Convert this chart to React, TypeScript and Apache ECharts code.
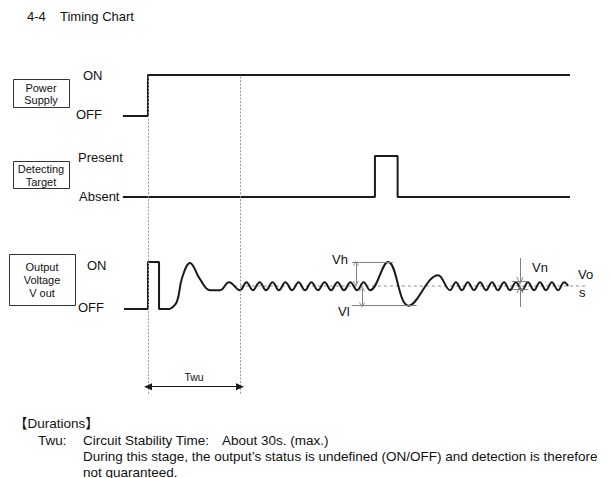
import React, { useEffect, useRef } from "react";
import * as echarts from "echarts";

// time axis in seconds (Twu = 30 s), levels: OFF/Absent = 0, ON/Present = 1
const powerSupply: number[][] = [[-8.2, 0], [0, 0], [0, 1], [137.6, 1]];
const detectingTarget: number[][] = [[-8.2, 0], [74.0, 0], [74.0, 1], [81.4, 1], [81.4, 0], [137.6, 0]];
const outputPulse: number[][] = [[-7.8, 0], [0, 0], [0, 1], [3.6, 1], [3.6, 0], [7.2, 0]];
const outputSettling: number[][] = [
  [7.2, 0], [9.4, 0.15], [11.1, 0.66], [13.7, 0.98], [16.9, 0.64],
  [20.2, 0.4], [23.5, 0.4], [26.4, 0.57], [30.0, 0.4],
];
const outputRipple1: number[][] = [
  [32.1, 0.57], [34.2, 0.4], [36.4, 0.57], [38.5, 0.4], [40.6, 0.57], [42.7, 0.4],
  [44.8, 0.57], [47.0, 0.4], [49.1, 0.57], [51.2, 0.4], [53.3, 0.57], [55.4, 0.4],
  [57.6, 0.57], [59.7, 0.4], [61.8, 0.57], [63.9, 0.4], [66.0, 0.57], [68.2, 0.4],
  [70.3, 0.57], [72.4, 0.4],
];
const outputDisturbance: number[][] = [[78.3, 1.0], [85.0, 0.07], [94.6, 0.72], [98.5, 0.4]];
const outputRipple2: number[][] = [
  [100.4, 0.57], [102.4, 0.4], [104.3, 0.57], [106.3, 0.4], [108.3, 0.57], [110.2, 0.4],
  [112.2, 0.57], [114.1, 0.4], [116.1, 0.57], [118.0, 0.4], [120.0, 0.57], [122.0, 0.4],
  [123.9, 0.57], [125.9, 0.4], [127.8, 0.57], [129.8, 0.4], [131.7, 0.57], [133.7, 0.4],
  [135.7, 0.57], [137.0, 0.49],
];
const vosLine: number[][] = [[28, 0.49], [142.5, 0.49]];
const twuStart = 0;
const twuEnd = 30;
const vh = { t0: 66.5, t1: 79.9, level: 0.985, arrowT: 67.8, arrowFrom: 0.975, arrowTo: 0.54 };
const vl = { t0: 66.5, t1: 87.6, level: 0.074, arrowT: 69.8, arrowFrom: 0.43, arrowTo: 0.085 };
const vn = { t: 121.3, t0: 118.6, t1: 124.0, hi: 0.596, lo: 0.426, top: 1.085, bottom: 0.043 };
const twuArrowLevel = -1.653;

const FONT = '"Liberation Sans", Arial, "Noto Sans CJK JP", sans-serif';
const BLACK = "#1a1a1a";
const GRAY = "#808080";
const CHEVRON = "path://M5,0 L10,10 L8.6,10 L5,2.8 L1.4,10 L0,10 Z";
const TRI = "path://M5,0 L10,10 L0,10 Z";

const X_MIN = -10;
const X_MAX = 145;
const LEFT = 117.33;
const RIGHT = 17.33;

function txt(text: string, x: number, y: number, size: number, align = "left", color = "#111") {
  return {
    type: "text",
    x,
    y,
    silent: true,
    style: {
      text,
      font: `${size}px ${FONT}`,
      fill: color,
      align,
      textAlign: align,
      verticalAlign: "middle",
      textVerticalAlign: "middle",
    },
  };
}

function box(x: number, y: number, w: number, h: number) {
  return {
    type: "rect",
    silent: true,
    shape: { x: x + 0.5, y: y + 0.5, width: w, height: h },
    style: { fill: "none", stroke: "#333", lineWidth: 1 },
  };
}

function seg(a: number[], b: number[], extraA: any = {}, extraB: any = {}, color = GRAY, width = 1) {
  return [
    { coord: a, lineStyle: { color, width, type: "solid" }, ...extraA },
    { coord: b, ...extraB },
  ];
}

export default function App() {
  const ref = useRef<HTMLDivElement>(null);
  useEffect(() => {
    document.body.style.margin = "0";
    const chart = echarts.init(ref.current!, undefined, { renderer: "svg" });
    const axisX = (gi: number) => ({ type: "value", gridIndex: gi, min: X_MIN, max: X_MAX, show: false });
    const lineBase = { type: "line", symbol: "none", clip: false, silent: true, animation: false };
    chart.setOption({
      animation: false,
      grid: [
        { left: LEFT, right: RIGHT, top: 75, height: 41 },
        { left: LEFT, right: RIGHT, top: 156, height: 41 },
        { left: LEFT, right: RIGHT, top: 74.94, height: 318.66 },
      ],
      xAxis: [axisX(0), axisX(1), axisX(2)],
      yAxis: [
        { type: "value", gridIndex: 0, min: 0, max: 1, show: false },
        { type: "value", gridIndex: 1, min: 0, max: 1, show: false },
        { type: "value", gridIndex: 2, min: -1.8, max: 4.98, show: false },
      ],
      series: [
        {
          ...lineBase,
          xAxisIndex: 2,
          yAxisIndex: 2,
          data: vosLine,
          z: 1,
          lineStyle: { color: "#8a8a8a", width: 1, type: [3, 3] },
          markLine: {
            silent: true,
            animation: false,
            symbol: ["none", "none"],
            label: { show: false },
            lineStyle: { color: GRAY, width: 1, type: "solid" },
            data: [
              { xAxis: twuStart, lineStyle: { color: "#9a9a9a", width: 1, type: [2, 1.5] } },
              { xAxis: twuEnd, lineStyle: { color: "#9a9a9a", width: 1, type: [2, 1.5] } },
              seg([vh.t0, vh.level], [vh.t1, vh.level]),
              seg([vl.t0, vl.level], [vl.t1, vl.level]),
              seg([vh.arrowT, vh.arrowFrom], [vh.arrowT, vh.arrowTo],
                { symbol: CHEVRON, symbolSize: [6, 5] }, { symbol: CHEVRON, symbolSize: [6, 5] }),
              seg([vl.arrowT, vl.arrowFrom], [vl.arrowT, vl.arrowTo],
                { symbol: CHEVRON, symbolSize: [6, 5] }, { symbol: CHEVRON, symbolSize: [6, 5] }),
              seg([vn.t0, vn.hi], [vn.t1, vn.hi]),
              seg([vn.t0, vn.lo], [vn.t1, vn.lo]),
              seg([vn.t, vn.top], [vn.t, vn.hi], { symbol: "none" }, { symbol: CHEVRON, symbolSize: [7, 8] }),
              seg([vn.t, vn.bottom], [vn.t, vn.lo], { symbol: "none" }, { symbol: CHEVRON, symbolSize: [7, 8] }),
              seg([twuStart, twuArrowLevel], [twuEnd, twuArrowLevel],
                { symbol: TRI, symbolSize: [7, 8] }, { symbol: TRI, symbolSize: [7, 8] }, BLACK, 1),
            ],
          },
        },
        { ...lineBase, xAxisIndex: 0, yAxisIndex: 0, data: powerSupply, z: 3, lineStyle: { color: BLACK, width: 2 } },
        { ...lineBase, xAxisIndex: 1, yAxisIndex: 1, data: detectingTarget, z: 3, lineStyle: { color: BLACK, width: 2 } },
        { ...lineBase, xAxisIndex: 2, yAxisIndex: 2, data: outputPulse, z: 3, lineStyle: { color: BLACK, width: 2 } },
        {
          ...lineBase,
          xAxisIndex: 2,
          yAxisIndex: 2,
          data: [...outputSettling, ...outputRipple1, ...outputDisturbance, ...outputRipple2],
          smooth: 0.4,
          z: 3,
          lineStyle: { color: BLACK, width: 2 },
        },
      ],
      graphic: [
        txt("4-4", 27, 16, 13),
        txt("Timing Chart", 60, 16, 13),
        box(13, 79, 56, 28),
        txt("Power", 41, 88, 11, "center"),
        txt("Supply", 41, 100, 11, "center"),
        txt("ON", 83, 75, 13),
        txt("OFF", 76, 114, 13),
        box(13, 161, 56, 27),
        txt("Detecting", 41, 169, 11, "center"),
        txt("Target", 41, 181.5, 11, "center"),
        txt("Present", 78, 157, 13),
        txt("Absent", 79, 196, 13),
        box(9, 254, 66, 51),
        txt("Output", 42, 267, 11, "center"),
        txt("Voltage", 42, 280, 11, "center"),
        txt("V out", 42, 293, 11, "center"),
        txt("ON", 87, 265, 13),
        txt("OFF", 78, 307, 13),
        txt("Vh", 332, 259, 13),
        txt("Vl", 338, 311, 13),
        txt("Vn", 532, 267, 13),
        txt("Vo", 578, 274, 13),
        txt("s", 579, 292, 13),
        txt("Twu", 194, 377, 10.5, "center"),
        txt("【Durations】", 14, 423, 13.5),
        txt("Twu:", 38, 440, 13.5),
        txt("Circuit Stability Time:", 83, 440, 13.5),
        txt("About 30s. (max.)", 222, 440, 13.5),
        txt("During this stage, the output’s status is undefined (ON/OFF) and detection is therefore", 83, 456, 13.5),
        txt("not guaranteed.", 83, 472, 13.5),
      ],
    });
    return () => chart.dispose();
  }, []);
  return <div ref={ref} style={{ width: 610, height: 478 }} />;
}
